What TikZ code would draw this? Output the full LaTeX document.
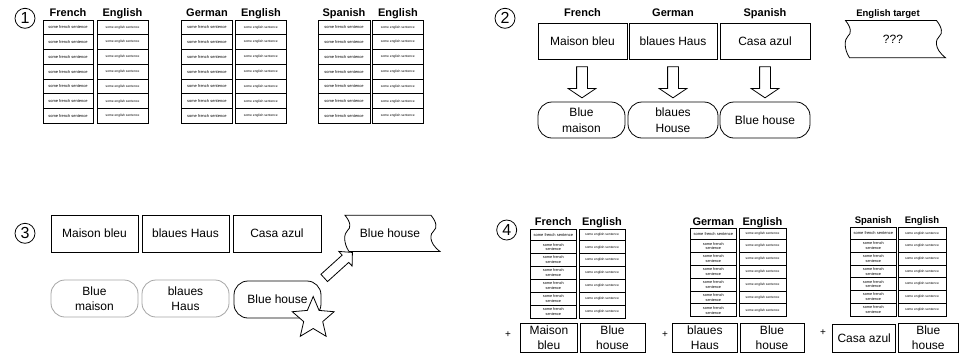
\documentclass[tikz,border=0pt]{standalone}
\usepackage{fontspec}
\setmainfont{Liberation Sans}
\usetikzlibrary{shapes.geometric,shapes.arrows,calc}

\tikzset{
  ln/.style={line width=0.8pt},
  box/.style={draw, ln, inner sep=0pt, align=center, font=\fontsize{12}{15.5}\selectfont},
  rbox/.style={box, rounded corners=14pt},
  grbox/.style={rbox, draw=black!35},
  head/.style={anchor=base, inner sep=0pt, font=\bfseries\fontsize{11}{13}\selectfont},
  smallhead/.style={head, font=\bfseries\fontsize{9.5}{11}\selectfont},
  num/.style={circle, draw, ln, minimum size=20pt, inner sep=0pt, font=\fontsize{16}{16}\selectfont},
  cellF/.style={draw, ln, inner sep=0pt, align=center, font=\fontsize{4}{4.8}\selectfont},
  cellE/.style={draw, ln, inner sep=0pt, align=center, font=\fontsize{3.3}{4}\selectfont},
  cellFF/.style={cellF, font=\fontsize{3.8}{4.8}\selectfont},
  tapetext/.style={inner sep=0pt, font=\fontsize{12}{15}\selectfont},
  plus/.style={inner sep=0pt, font=\fontsize{10}{10}\selectfont},
  downarrow/.style={single arrow, draw, ln, fill=white, inner xsep=0pt, inner ysep=5pt,
    minimum height=31pt, single arrow head extend=8.5pt, single arrow tip angle=112},
  diagarrow/.style={single arrow, draw, ln, fill=white, inner xsep=0pt, inner ysep=4.5pt,
    minimum height=38pt, single arrow head extend=5pt, single arrow tip angle=93},
  starshape/.style={star, star points=5, star point ratio=2.2, minimum size=44pt, draw, ln, fill=white, inner sep=0pt}
}

% box: [style]{name}{x1}{y1}{x2}{y2}{text}
\newcommand{\bx}[7][box]{%
  \node[#1, minimum width={(#5)-(#3)}, minimum height={(#6)-(#4)}] (#2) at ({((#3)+(#5))/2},{((#4)+(#6))/2}) {#7};}

% uniform table: prefix, L1, L2, R1, R2, top, bottom
\newcommand{\tblA}[7]{%
  \foreach \i in {1,...,7}{
    \node[cellF, minimum width={(#3)-(#2)}, minimum height={((#7)-(#6))/7}] (#1L\i)
      at ({((#2)+(#3))/2},{(#6)+(\i-0.5)*((#7)-(#6))/7}) {some french sentence};
    \node[cellE, minimum width={(#5)-(#4)}, minimum height={((#7)-(#6))/7}] (#1R\i)
      at ({((#4)+(#5))/2},{(#6)+(\i-0.5)*((#7)-(#6))/7}) {some english sentence};
  }}

% panel-4 table: first row short, others two-line
\newcommand{\tblB}[7]{%
  \node[cellF, minimum width={(#3)-(#2)}, minimum height=11.7] (#1L1)
    at ({((#2)+(#3))/2},{(#6)+5.85}) {some french sentence};
  \node[cellE, minimum width={(#5)-(#4)}, minimum height=11.7] (#1R1)
    at ({((#4)+(#5))/2},{(#6)+5.85}) {some english sentence};
  \foreach \i in {2,...,7}{
    \node[cellFF, minimum width={(#3)-(#2)}, minimum height={((#7)-(#6)-11.7)/6}] (#1L\i)
      at ({((#2)+(#3))/2},{(#6)+11.7+(\i-1.5)*((#7)-(#6)-11.7)/6}) {some french\\sentence};
    \node[cellE, minimum width={(#5)-(#4)}, minimum height={((#7)-(#6)-11.7)/6}] (#1R\i)
      at ({((#4)+(#5))/2},{(#6)+11.7+(\i-1.5)*((#7)-(#6)-11.7)/6}) {some english sentence};
  }}

% tape: name, L, T, R, B, text
\newcommand{\tape}[6]{%
  \node[tapetext] (#1) at ({((#2)+(#4))/2+2},{((#3)+(#5))/2}) {#6};
  \draw[ln] (#2,#3) -- (#4,#3)
    .. controls ({#4+6},{#3+0.2*(#5-#3)}) and ({#4+6},{#3+0.35*(#5-#3)}) .. ({#4+3},{#3+0.42*(#5-#3)})
    .. controls ({#4-1},{#3+0.5*(#5-#3)}) and ({#4-3},{#3+0.75*(#5-#3)}) .. ({#4+9},#5)
    -- ({#2+4},#5)
    .. controls ({#2-2},{#3+0.75*(#5-#3)}) and ({#2-1},{#3+0.5*(#5-#3)}) .. ({#2+2.5},{#3+0.42*(#5-#3)})
    .. controls ({#2+6},{#3+0.35*(#5-#3)}) and ({#2+6},{#3+0.2*(#5-#3)}) .. (#2,#3) -- cycle;}

\begin{document}
\begin{tikzpicture}[x=1pt,y=-1pt]
\useasboundingbox (0,0) rectangle (959,354);
\fill[white] (0,0) rectangle (959,354);

% ---------- Panel 1 ----------
\node[num] (n1) at (25,18.3) {1};
\tblA{pa}{43}{93}{97}{148}{20}{123.3}
\tblA{pb}{181}{232.7}{235}{286.7}{20}{123.3}
\tblA{pc}{318}{370}{372.7}{423}{20}{123.3}
\node[head] (hpa1) at (68,16.7) {French};
\node[head] (hpa2) at (122.5,16.7) {English};
\node[head] (hpb1) at (207,16.7) {German};
\node[head] (hpb2) at (261,16.7) {English};
\node[head] (hpc1) at (344,16.7) {Spanish};
\node[head] (hpc2) at (398,16.7) {English};

% ---------- Panel 2 ----------
\node[num] (n2) at (505,18.3) {2};
\node[head] (hq1) at (582.5,16.7) {French};
\node[head] (hq2) at (673,16.7) {German};
\node[head] (hq3) at (765,16.7) {Spanish};
\node[smallhead] (hq4) at (888,16) {English target};
\bx{b2a}{538}{23}{627}{59}{Maison bleu}
\bx{b2b}{629}{23}{717}{59}{blaues Haus}
\bx{b2c}{720}{23}{810}{59}{Casa azul}
\tape{t2}{845.5}{20.5}{936.5}{57.7}{???}
\bx[rbox]{r2a}{538}{102}{625}{138}{Blue\\maison}
\bx[rbox]{r2b}{628}{102}{718}{138}{blaues\\House}
\bx[rbox]{r2c}{720}{102}{810}{138}{Blue house}
\node[downarrow, rotate=-90] (d2a) at ($(b2a.south)!0.5!(r2a.north)$) {};
\node[downarrow, rotate=-90] (d2b) at ($(b2b.south)!0.5!(r2b.north)$) {};
\node[downarrow, rotate=-90] (d2c) at ($(b2c.south)!0.5!(r2c.north)$) {};

% ---------- Panel 3 ----------
\node[num] (n3) at (25,233.3) {3};
\bx{b3a}{51}{215}{138}{252}{Maison bleu}
\bx{b3b}{142}{215}{229}{252}{blaues Haus}
\bx{b3c}{233}{215}{321}{252}{Casa azul}
\tape{t3}{345}{215.3}{431}{251.5}{Blue house}
\bx[grbox]{r3a}{51}{280}{138}{317}{Blue\\maison}
\bx[grbox]{r3b}{142}{280}{229}{317}{blaues\\Haus}
\bx[rbox]{r3c}{234}{281}{321}{318}{Blue house}
\node[starshape] (s3) at (313.2,318.5) {};
\coordinate (a3s) at (322.5,279.5);
\coordinate (a3e) at (350.7,254);
\path (a3s) -- node[diagarrow, sloped] (d3) {} (a3e);

% ---------- Panel 4 ----------
\node[num] (n4) at (506.7,230) {4};
\tblB{qa}{530}{576.7}{579}{625}{229}{318}
\tblB{qb}{690}{736.7}{739}{786}{228}{316.7}
\tblB{qc}{850}{896.7}{898}{946}{227.7}{316}
\node[head] (hr1) at (553.3,225) {French};
\node[head] (hr2) at (602,225) {English};
\node[head] (hr3) at (713.3,225) {German};
\node[head] (hr4) at (762.5,225) {English};
\node[smallhead] (hr5) at (873.3,223.3) {Spanish};
\node[smallhead] (hr6) at (922,223.3) {English};
\node[plus] (pl1) at (508,335) {+};
\node[plus] (pl2) at (665,335) {+};
\node[plus] (pl3) at (823,333) {+};
\bx{c4a}{520.7}{323}{577}{352}{Maison\\bleu}
\bx{c4b}{580}{323}{645}{352}{Blue\\house}
\bx{c4c}{672.7}{323}{737}{352}{blaues\\Haus}
\bx{c4d}{740}{323}{804}{352}{Blue\\house}
\bx{c4e}{832.7}{324}{895.7}{352}{Casa azul}
\bx{c4f}{898}{323}{958.5}{352}{Blue\\house}
\end{tikzpicture}
\end{document}
